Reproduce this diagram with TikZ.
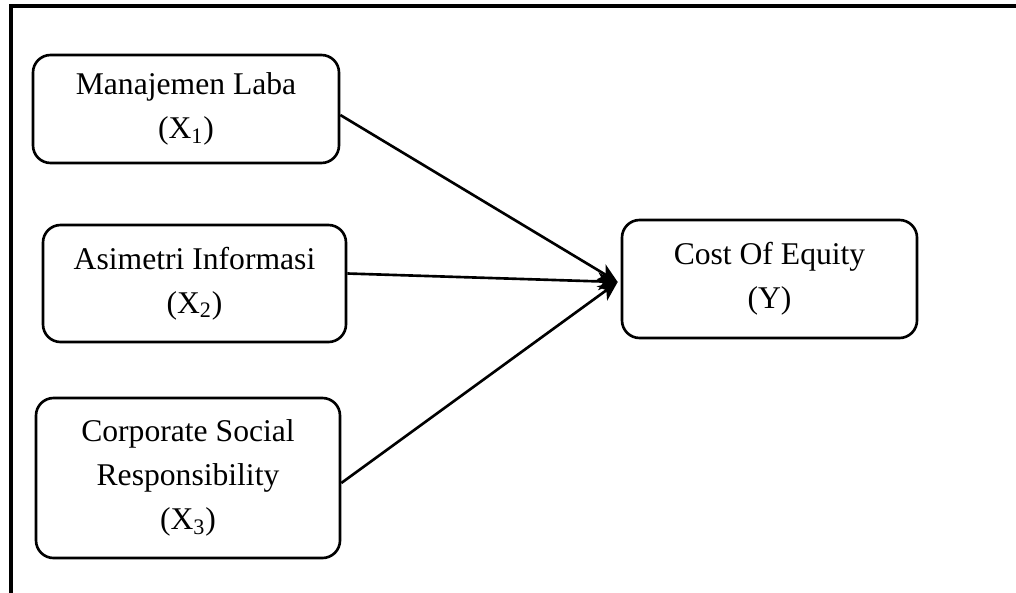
\documentclass[tikz,border=0pt]{standalone}
\usepackage{fontspec}
\setmainfont{Liberation Serif}
\usetikzlibrary{arrows.meta}

\begin{document}
\begin{tikzpicture}[x=0.02cm, y=-0.02cm,
  var/.style={draw, line width=1.5pt, rounded corners=10pt, align=center,
              font=\fontsize{18}{25}\selectfont, inner sep=0pt,
              execute at begin node={\rule{0pt}{20pt}}},
  arr/.style={-{Stealth[length=11pt, width=10pt, inset=3pt]}, line width=1.5pt}]
\clip (0,0) rectangle (1016,592);
% outer frame (only top and left edge show)
\draw[line width=1.8pt] (11,6) rectangle (1040,620);
\node[var, minimum width=306*0.02cm, minimum height=108*0.02cm] (mlaba) at (186,109) {Manajemen Laba\\(X\textsubscript{1})};
\node[var, minimum width=303*0.02cm, minimum height=117*0.02cm] (asim) at (194.5,283.5) {Asimetri Informasi\\(X\textsubscript{2})};
\node[var, minimum width=304*0.02cm, minimum height=160*0.02cm] (csr) at (188,478) {Corporate Social\\Responsibility\\(X\textsubscript{3})};
\node[var, minimum width=295*0.02cm, minimum height=118*0.02cm] (coe) at (769.5,279) {Cost Of Equity\\(Y)};
\coordinate (tip) at ([xshift=-3*0.02cm, yshift=-3*0.02cm]coe.west);
\draw[arr] ([yshift=-6*0.02cm]mlaba.east) -- (tip);
\draw[arr] ([yshift=10*0.02cm]asim.east) -- (tip);
\draw[arr] ([yshift=-5*0.02cm]csr.east) -- (tip);
\end{tikzpicture}
\end{document}
